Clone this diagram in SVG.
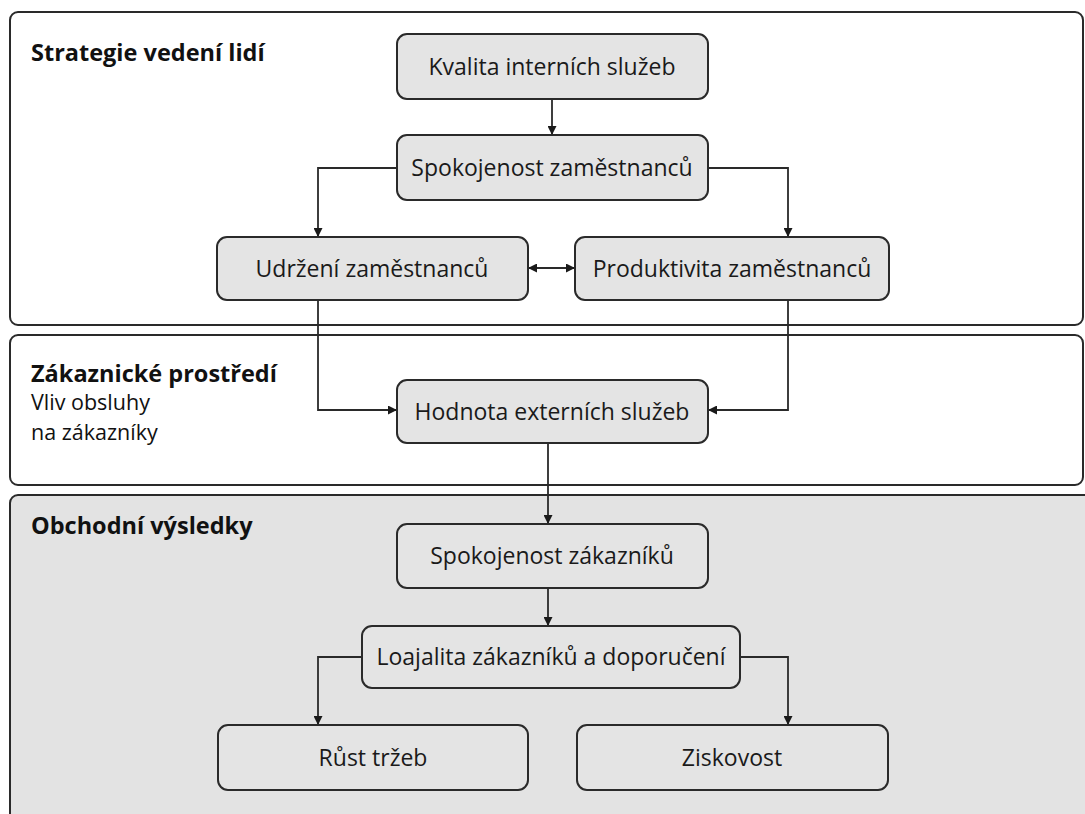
<svg xmlns="http://www.w3.org/2000/svg" width="1085" height="814" viewBox="0 0 1085 814">
<defs>
<style>
.panel{fill:#ffffff;stroke:#2a2a2a;stroke-width:2}
.panel.g{fill:#e3e3e3}
.node{fill:#e4e4e4;stroke:#2a2a2a;stroke-width:2}
.t{font-family:"Open Sans","Noto Sans",sans-serif;font-size:23px;fill:#1a1a1a;text-anchor:middle}
.h{font-family:"Open Sans","Noto Sans",sans-serif;font-size:23px;fill:#111}
.s{font-size:21.5px}
.b{font-weight:bold;font-size:23.5px}
.c{fill:none;stroke:#2a2a2a;stroke-width:1.8}
</style>
<marker id="ah" viewBox="0 0 10 10" refX="10" refY="5" markerWidth="9" markerHeight="9" markerUnits="userSpaceOnUse" orient="auto-start-reverse">
<path d="M0,0 L10,5 L0,10 z" fill="#1a1a1a"/>
</marker>
</defs>
<rect width="1085" height="814" fill="#ffffff"/>

<g id="panel-strategie">
<rect class="panel" x="10" y="12" width="1073" height="313" rx="8"/>
<text class="h b" x="31" y="61">Strategie vedení lidí</text>
</g>
<g id="panel-zakaznicke">
<rect class="panel" x="10" y="335" width="1073" height="150" rx="8"/>
<text class="h b" x="31" y="382">Zákaznické prostředí</text>
<text class="h s" x="31" y="410">Vliv obsluhy</text>
<text class="h s" x="31" y="440">na zákazníky</text>
</g>
<g id="panel-obchodni">
<rect class="panel g" x="10" y="495" width="1085" height="340" rx="8"/>
<text class="h b" x="31" y="534">Obchodní výsledky</text>
</g>

<g id="connectors">
<path class="c" d="M552,99 V135" marker-end="url(#ah)"/>
<path class="c" d="M397,168 H318 V237" marker-end="url(#ah)"/>
<path class="c" d="M708,168 H788 V237" marker-end="url(#ah)"/>
<path class="c" d="M528,268 H575" marker-start="url(#ah)" marker-end="url(#ah)"/>
<path class="c" d="M318,300 V410 H397" marker-end="url(#ah)"/>
<path class="c" d="M788,300 V410 H708" marker-end="url(#ah)"/>
<path class="c" d="M548,443 V524" marker-end="url(#ah)"/>
<path class="c" d="M548,588 V626" marker-end="url(#ah)"/>
<path class="c" d="M362,657 H318 V725" marker-end="url(#ah)"/>
<path class="c" d="M740,657 H788 V725" marker-end="url(#ah)"/>
</g>

<g id="n-kvalita">
<rect class="node" x="397" y="34" width="311" height="65" rx="10"/>
<text class="t" x="552" y="75">Kvalita interních služeb</text>
</g>
<g id="n-spokojenost-zam">
<rect class="node" x="397" y="135" width="311" height="65" rx="10"/>
<text class="t" x="552" y="176">Spokojenost zaměstnanců</text>
</g>
<g id="n-udrzeni">
<rect class="node" x="217" y="237" width="311" height="63" rx="10"/>
<text class="t" x="372" y="277">Udržení zaměstnanců</text>
</g>
<g id="n-produktivita">
<rect class="node" x="575" y="237" width="314" height="63" rx="10"/>
<text class="t" x="732" y="277">Produktivita zaměstnanců</text>
</g>
<g id="n-hodnota">
<rect class="node" x="397" y="380" width="311" height="63" rx="10"/>
<text class="t" x="552" y="420">Hodnota externích služeb</text>
</g>
<g id="n-spokojenost-zak">
<rect class="node" x="397" y="524" width="311" height="64" rx="10"/>
<text class="t" x="552" y="564">Spokojenost zákazníků</text>
</g>
<g id="n-loajalita">
<rect class="node" x="362" y="626" width="378" height="62" rx="10"/>
<text class="t" x="551" y="665">Loajalita zákazníků a doporučení</text>
</g>
<g id="n-rust">
<rect class="node" x="218" y="725" width="310" height="65" rx="10"/>
<text class="t" x="373" y="766">Růst tržeb</text>
</g>
<g id="n-ziskovost">
<rect class="node" x="577" y="725" width="311" height="65" rx="10"/>
<text class="t" x="732" y="766">Ziskovost</text>
</g>
</svg>
